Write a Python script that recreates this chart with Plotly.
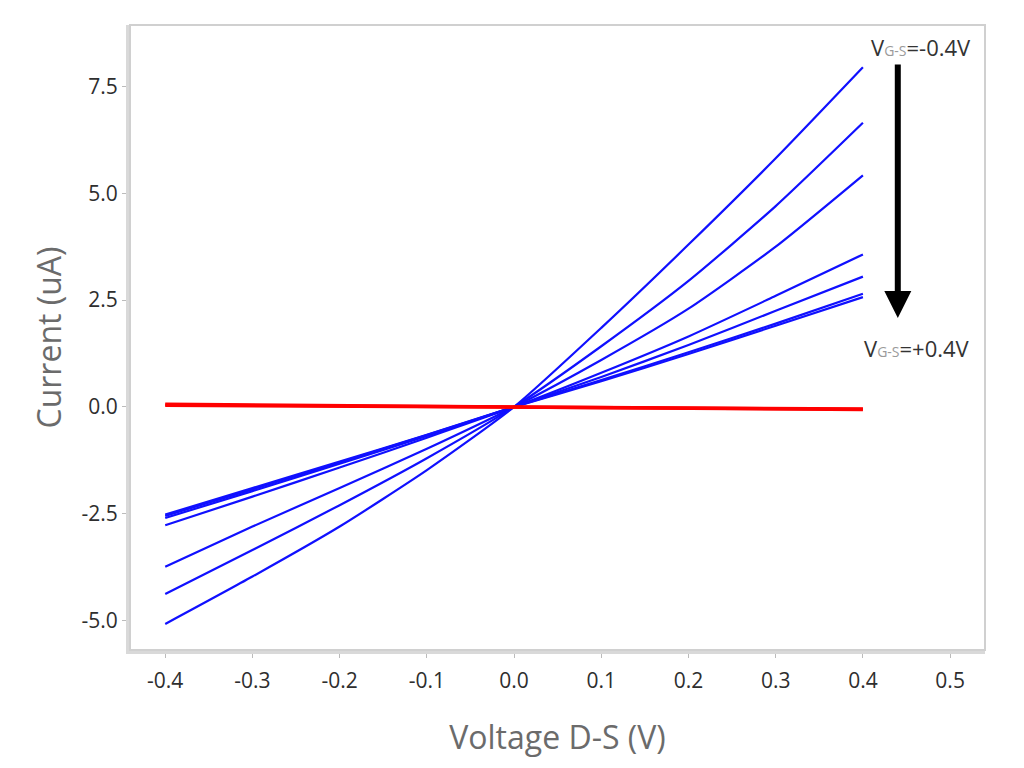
import plotly.graph_objects as go

# Drain-source voltage samples (V)
vds = [-0.4, -0.3, -0.2, -0.1, 0.0, 0.1, 0.2, 0.3, 0.4]

# Current (uA) for each gate voltage
i_g1 = [-5.08, -3.97, -2.80, -1.48, 0.0, 1.85, 3.80, 5.82, 7.95]
i_g2 = [-4.38, -3.35, -2.30, -1.20, 0.0, 1.42, 2.95, 4.70, 6.65]
i_g3 = [-3.74, -2.80, -1.90, -0.98, 0.0, 1.10, 2.30, 3.75, 5.42]
i_g4 = [-2.77, -2.10, -1.42, -0.72, 0.0, 0.80, 1.65, 2.60, 3.57]
i_g5 = [-2.60, -1.97, -1.33, -0.68, 0.0, 0.70, 1.45, 2.25, 3.05]
i_g6 = [-2.55, -1.93, -1.30, -0.66, 0.0, 0.63, 1.28, 1.95, 2.65]
i_g7 = [-2.52, -1.90, -1.28, -0.65, 0.0, 0.60, 1.24, 1.90, 2.57]
i_off1 = [0.06, 0.045, 0.03, 0.015, 0.0, -0.015, -0.03, -0.045, -0.06]
i_off2 = [0.04, 0.03, 0.02, 0.01, 0.0, -0.012, -0.025, -0.04, -0.05]

blue_series = [i_g1, i_g2, i_g3, i_g4, i_g5, i_g6, i_g7]
red_series = [i_off1, i_off2]

x_ticks = [-0.4, -0.3, -0.2, -0.1, 0.0, 0.1, 0.2, 0.3, 0.4, 0.5]
x_ticktext = ["-0.4", "-0.3", "-0.2", "-0.1", "0.0", "0.1", "0.2", "0.3", "0.4", "0.5"]
y_ticks = [-5.0, -2.5, 0.0, 2.5, 5.0, 7.5]
y_ticktext = ["-5.0", "-2.5", "0.0", "2.5", "5.0", "7.5"]

FONT = "Open Sans"

fig = go.Figure()
for s in blue_series:
    fig.add_trace(go.Scatter(x=vds, y=s, mode="lines",
                             line=dict(color="#1010ff", width=2.2, shape="spline", smoothing=0.6),
                             showlegend=False))
for s in red_series:
    fig.add_trace(go.Scatter(x=vds, y=s, mode="lines",
                             line=dict(color="#ff0000", width=3.5), showlegend=False))

axis_common = dict(
    showgrid=False, zeroline=False, showline=True, linewidth=4, linecolor="#d9d9d9",
    ticks="outside", ticklen=4, tickwidth=1, tickcolor="#bbbbbb",
    tickfont=dict(family=FONT, size=21, color="#2e2e2e"),
    title_font=dict(family=FONT, size=32, color="#6b6b6b"),
)

fig.update_layout(
    width=1024, height=768,
    paper_bgcolor="white", plot_bgcolor="white",
    margin=dict(l=130, r=39, t=25, b=118),
    xaxis=dict(range=[-0.4404, 0.540], tickvals=x_ticks, ticktext=x_ticktext,
               ticklabelstandoff=5,
               title=dict(text="Voltage D-S (V)", standoff=34), **axis_common),
    yaxis=dict(range=[-5.69, 8.94], tickvals=y_ticks, ticktext=y_ticktext,
               title=dict(text="Current (uA)", standoff=11), **axis_common),
    shapes=[dict(type="rect", xref="paper", yref="paper", x0=0, x1=1, y0=0, y1=1,
                 line=dict(color="#d0d0d0", width=2), layer="above")],
    annotations=[
        dict(x=0.44, y=2.08, ax=0.44, ay=8.05, xref="x", yref="y", axref="x", ayref="y",
             showarrow=True, arrowhead=2, arrowsize=0.9, arrowwidth=6, arrowcolor="#000000",
             text=""),
        dict(x=0.4665, y=8.42, xref="x", yref="y", showarrow=False,
             text="V<span style='font-size:14px;color:#9a9a9a'>G-S</span>=-0.4V",
             font=dict(family=FONT, size=22, color="#333333")),
        dict(x=0.462, y=1.38, xref="x", yref="y", showarrow=False,
             text="V<span style='font-size:14px;color:#9a9a9a'>G-S</span>=+0.4V",
             font=dict(family=FONT, size=22, color="#333333")),
    ],
)

fig.write_html("out.html")
